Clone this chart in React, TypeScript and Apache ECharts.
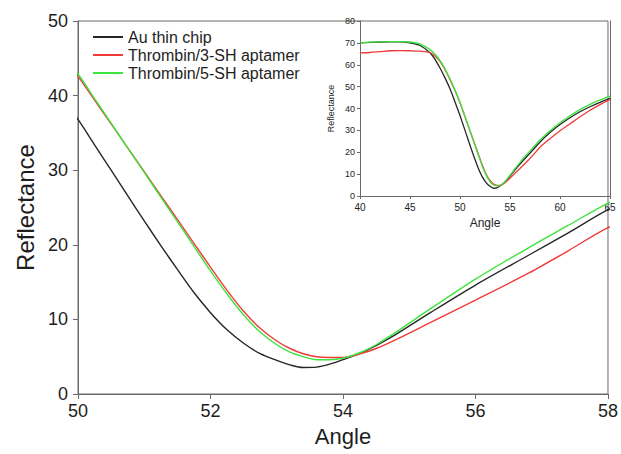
import React, { useEffect, useRef } from "react";
import * as echarts from "echarts";

const seriesNames = ["Au thin chip", "Thrombin/3-SH aptamer", "Thrombin/5-SH aptamer"];
const seriesColors = ["#262626", "#f03a3a", "#3ce43c"];

const angles = [40, 41, 42, 43, 44, 45, 46, 47, 47.5, 48, 48.5, 49, 49.5, 50, 50.25, 50.5, 50.75, 51, 51.25, 51.5, 51.75, 52, 52.25, 52.5, 52.75, 53, 53.2, 53.4, 53.6, 53.8, 54, 54.3, 54.5, 54.8, 55.3, 56, 56.8, 57.4, 58, 59, 60, 61, 62, 63, 64, 65];

const auChip = [70.0, 70.2, 70.4, 70.5, 70.5, 70.0, 68.8, 65.5, 62.5, 58.5, 54.0, 49.0, 43.0, 36.8, 33.4, 30.0, 26.6, 23.2, 19.9, 16.7, 13.6, 10.9, 8.6, 6.8, 5.4, 4.5, 3.9, 3.55, 3.6, 4.0, 4.6, 5.6, 6.5, 8.0, 10.8, 14.6, 18.6, 21.6, 24.7, 29.0, 32.7, 35.8, 38.5, 40.8, 42.8, 44.6];

const aptamer3 = [65.4, 65.6, 66.0, 66.4, 66.5, 66.4, 66.2, 65.6, 64.0, 61.5, 57.8, 53.2, 48.2, 42.6, 39.4, 36.2, 33.0, 29.8, 26.6, 23.4, 20.2, 17.0, 13.9, 11.1, 8.8, 7.1, 6.1, 5.4, 5.0, 4.9, 4.9, 5.5, 6.1, 7.3, 9.5, 12.6, 16.2, 19.2, 22.3, 26.2, 29.8, 33.0, 36.2, 39.2, 41.8, 44.2];

const aptamer5 = [70.0, 70.3, 70.5, 70.6, 70.6, 70.4, 69.5, 66.9, 64.8, 62.0, 58.1, 53.5, 48.4, 42.9, 39.6, 36.3, 33.0, 29.7, 26.4, 23.1, 19.8, 16.5, 13.4, 10.6, 8.3, 6.6, 5.6, 5.0, 4.6, 4.6, 4.8, 5.7, 6.6, 8.3, 11.3, 15.4, 19.6, 22.6, 25.6, 29.8, 33.5, 36.7, 39.5, 41.9, 43.9, 45.7];

const allValues = [auChip, aptamer3, aptamer5];

const FONT = "'Liberation Sans', Arial, sans-serif";
const AXIS_GRAY = "#6a6a6a";
const TEXT = "#1e1e1e";

export default function App() {
  const ref = useRef<HTMLDivElement>(null);
  useEffect(() => {
    if (!ref.current) return;
    const chart = echarts.init(ref.current, null, { renderer: "svg" });

    const mkSeries = (gridIdx: number) =>
      allValues.map((vals, k) => ({
        name: seriesNames[k],
        type: "line",
        xAxisIndex: gridIdx,
        yAxisIndex: gridIdx,
        data: angles.map((a, i) => [a, vals[i]]),
        showSymbol: false,
        symbol: "none",
        smooth: 0.3,
        clip: true,
        lineStyle: { color: seriesColors[k], width: gridIdx === 0 ? 1.4 : 1.3 },
        itemStyle: { color: seriesColors[k] },
      }));

    chart.setOption({
      animation: false,
      backgroundColor: "#ffffff",
      textStyle: { fontFamily: FONT },
      legend: {
        data: seriesNames,
        orient: "vertical",
        left: 93,
        top: 29,
        padding: 0,
        itemWidth: 30,
        itemHeight: 2,
        itemGap: 2,
        icon: "rect",
        textStyle: { fontSize: 16, color: TEXT, fontFamily: FONT },
      },
      grid: [
        { left: 78, top: 21, right: 11, bottom: 60, show: true, borderColor: AXIS_GRAY, borderWidth: 1 },
        { left: 360, top: 21, right: 11, bottom: 258, show: false },
      ],
      xAxis: [
        {
          type: "value",
          gridIndex: 0,
          min: 50,
          max: 58,
          interval: 2,
          name: "Angle",
          nameLocation: "middle",
          nameGap: 31,
          nameTextStyle: { fontSize: 22, color: TEXT, fontFamily: FONT },
          axisLine: { show: true, lineStyle: { color: AXIS_GRAY } },
          axisTick: { show: true, length: 5, inside: false, lineStyle: { color: AXIS_GRAY } },
          axisLabel: { fontSize: 18, color: TEXT, margin: 8, fontFamily: FONT },
          splitLine: { show: false },
        },
        {
          type: "value",
          gridIndex: 1,
          min: 40,
          max: 65,
          interval: 5,
          name: "Angle",
          nameLocation: "middle",
          nameGap: 21,
          nameTextStyle: { fontSize: 12, color: TEXT, fontFamily: FONT },
          axisLine: { show: true, lineStyle: { color: AXIS_GRAY } },
          axisTick: { show: true, length: 3, inside: false, lineStyle: { color: AXIS_GRAY } },
          axisLabel: { fontSize: 10, color: TEXT, margin: 6, fontFamily: FONT },
          splitLine: { show: false },
        },
        {
          type: "value",
          gridIndex: 1,
          position: "top",
          min: 40,
          max: 65,
          axisLine: { show: true, lineStyle: { color: AXIS_GRAY } },
          axisTick: { show: false },
          axisLabel: { show: false },
          splitLine: { show: false },
        },
      ],
      yAxis: [
        {
          type: "value",
          gridIndex: 0,
          min: 0,
          max: 50,
          interval: 10,
          name: "Reflectance",
          nameLocation: "middle",
          nameGap: 35,
          nameTextStyle: { fontSize: 24, color: TEXT, fontFamily: FONT },
          axisLine: { show: true, lineStyle: { color: AXIS_GRAY } },
          axisTick: { show: true, length: 5, inside: false, lineStyle: { color: AXIS_GRAY } },
          axisLabel: { fontSize: 18, color: TEXT, margin: 10, fontFamily: FONT },
          splitLine: { show: false },
        },
        {
          type: "value",
          gridIndex: 1,
          min: 0,
          max: 80,
          interval: 10,
          name: "Reflectance",
          nameLocation: "middle",
          nameGap: 25,
          nameTextStyle: { fontSize: 9, color: TEXT, fontFamily: FONT },
          axisLine: { show: true, lineStyle: { color: AXIS_GRAY } },
          axisTick: { show: true, length: 3, inside: false, lineStyle: { color: AXIS_GRAY } },
          axisLabel: { fontSize: 9, color: TEXT, margin: 5, fontFamily: FONT },
          splitLine: { show: false },
        },
        {
          type: "value",
          gridIndex: 1,
          position: "right",
          min: 0,
          max: 80,
          axisLine: { show: true, lineStyle: { color: AXIS_GRAY } },
          axisTick: { show: false },
          axisLabel: { show: false },
          splitLine: { show: false },
        },
      ],
      series: [...mkSeries(0), ...mkSeries(1)],
    });

    return () => chart.dispose();
  }, []);

  return (
    <div
      ref={ref}
      style={{ position: "fixed", left: 0, top: 0, width: 621, height: 454, background: "#fff" }}
    />
  );
}
